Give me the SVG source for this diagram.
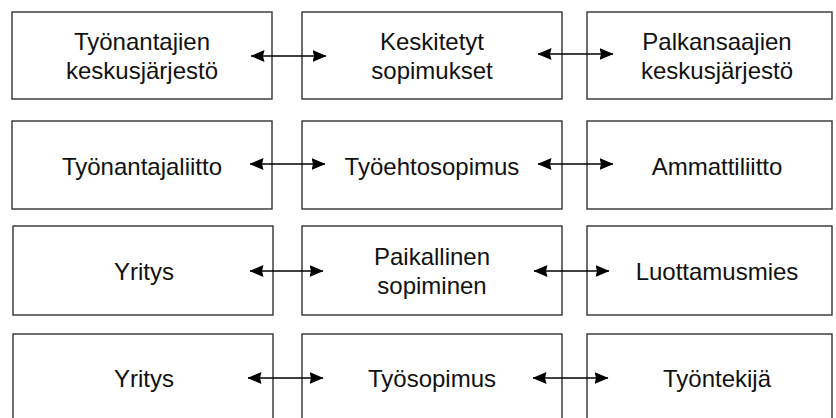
<svg xmlns="http://www.w3.org/2000/svg" width="836" height="418" viewBox="0 0 836 418">
<defs>
<style>
.box{fill:#fff;stroke:#333;stroke-width:1.4}
.t{font-family:"Liberation Sans",Arial,sans-serif;font-size:24px;fill:#111;text-anchor:middle}
.c{stroke:#000;stroke-width:1.6;fill:none;marker-start:url(#ah);marker-end:url(#ah)}
</style>
<marker id="ah" viewBox="0 0 14 12" refX="13.5" refY="6" markerWidth="14" markerHeight="12" markerUnits="userSpaceOnUse" orient="auto-start-reverse">
<path d="M0,0 L14,6 L0,12 L1.5,6 Z" fill="#000"/>
</marker>
</defs>
<rect width="836" height="418" fill="#fff"/>
<g id="n1"><rect class="box" x="12" y="12" width="260" height="87"/><text class="t" x="142" y="50">Työnantajien</text><text class="t" x="142" y="79">keskusjärjestö</text></g>
<g id="n2"><rect class="box" x="302" y="12" width="260" height="87"/><text class="t" x="432" y="50">Keskitetyt</text><text class="t" x="432" y="79">sopimukset</text></g>
<g id="n3"><rect class="box" x="587" y="12" width="245" height="87"/><text class="t" x="717" y="50">Palkansaajien</text><text class="t" x="717" y="79">keskusjärjestö</text></g>
<g id="n4"><rect class="box" x="12" y="121" width="260" height="88"/><text class="t" x="142" y="175">Työnantajaliitto</text></g>
<g id="n5"><rect class="box" x="302" y="121" width="260" height="88"/><text class="t" x="432" y="175">Työehtosopimus</text></g>
<g id="n6"><rect class="box" x="587" y="121" width="245" height="88"/><text class="t" x="717" y="175">Ammattiliitto</text></g>
<g id="n7"><rect class="box" x="13" y="226" width="260" height="89"/><text class="t" x="144" y="280">Yritys</text></g>
<g id="n8"><rect class="box" x="302" y="226" width="260" height="89"/><text class="t" x="432" y="265">Paikallinen</text><text class="t" x="432" y="294">sopiminen</text></g>
<g id="n9"><rect class="box" x="587" y="226" width="245" height="89"/><text class="t" x="717" y="280">Luottamusmies</text></g>
<g id="n10"><rect class="box" x="13" y="334" width="260" height="100"/><text class="t" x="144" y="387">Yritys</text></g>
<g id="n11"><rect class="box" x="302" y="334" width="260" height="100"/><text class="t" x="432" y="387">Työsopimus</text></g>
<g id="n12"><rect class="box" x="587" y="334" width="245" height="100"/><text class="t" x="717" y="387">Työntekijä</text></g>
<g id="connectors">
<line class="c" x1="251" y1="56" x2="326" y2="56"/>
<line class="c" x1="538" y1="54" x2="613" y2="54"/>
<line class="c" x1="250" y1="164" x2="325" y2="164"/>
<line class="c" x1="538" y1="164" x2="613" y2="164"/>
<line class="c" x1="250" y1="271" x2="323" y2="271"/>
<line class="c" x1="534" y1="271" x2="609" y2="271"/>
<line class="c" x1="248" y1="378" x2="323" y2="378"/>
<line class="c" x1="533" y1="378" x2="608" y2="378"/>
</g>
</svg>
